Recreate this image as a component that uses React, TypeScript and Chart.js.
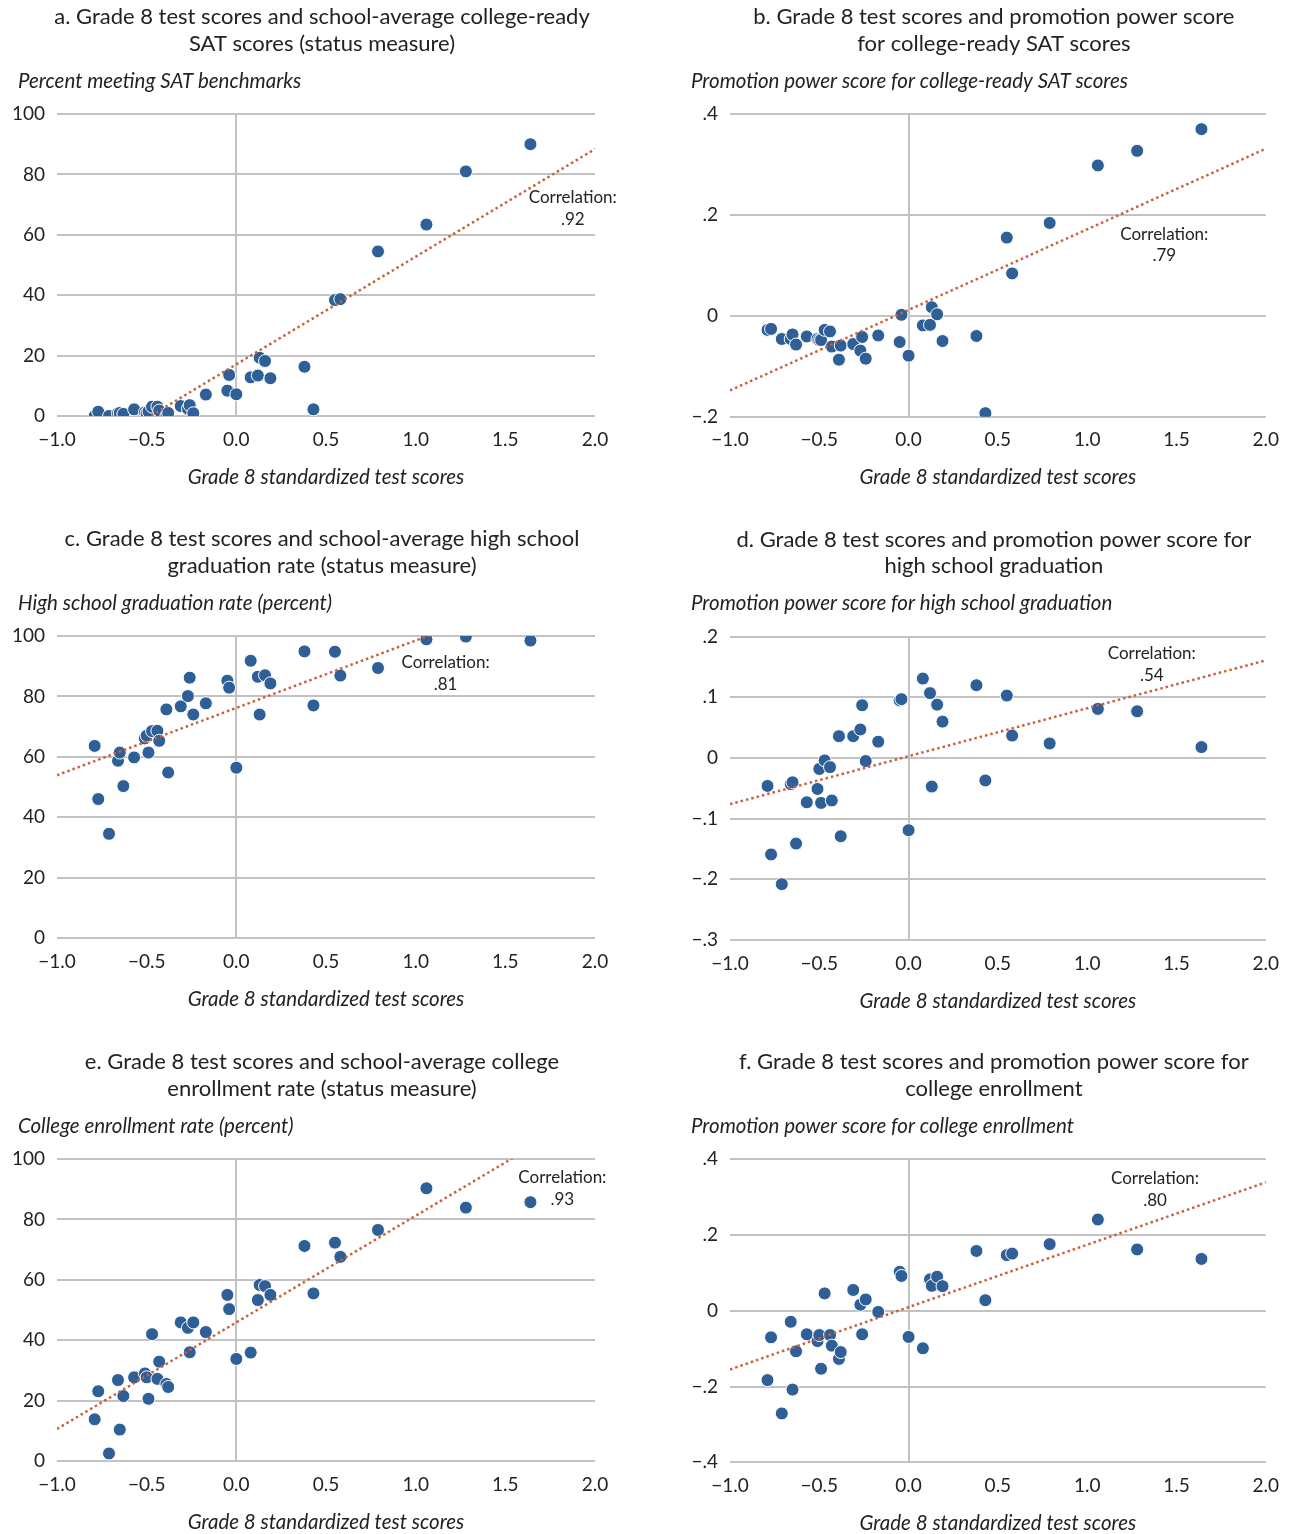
import React, { useEffect, useRef } from "react";
import { Chart, registerables } from "chart.js";

Chart.register(...registerables);

// Grade 8 standardized test scores (one value per school, shared by all panels)
const testScores = [
  -0.79, -0.77, -0.71, -0.66, -0.65, -0.63, -0.57, -0.51, -0.5, -0.49, -0.47, -0.44,
  -0.43, -0.39, -0.38, -0.31, -0.27, -0.26, -0.24, -0.17, -0.05, -0.04, 0.0, 0.08,
  0.12, 0.13, 0.16, 0.19, 0.38, 0.43, 0.55, 0.58, 0.79, 1.06, 1.28, 1.64,
];

// a. percent meeting SAT benchmarks
const satStatus = [
  0, 1.4, 0, 0.9, 1.0, 0.7, 2.2, 1.2, 0.9, 1.5, 3.1, 3.1,
  1.8, 0, 1.0, 3.3, 2.4, 3.6, 0.9, 7.1, 8.4, 13.6, 7.2, 12.8,
  13.4, 19.3, 18.2, 12.5, 16.3, 2.2, 38.4, 38.7, 54.5, 63.4, 81, 90,
];

// b. promotion power score, college-ready SAT
const satPromotion = [
  -0.028, -0.026, -0.046, -0.046, -0.037, -0.057, -0.041, -0.046, -0.048, -0.048, -0.028, -0.031,
  -0.061, -0.087, -0.059, -0.056, -0.069, -0.042, -0.085, -0.039, -0.052, 0.002, -0.079, -0.019,
  -0.018, 0.017, 0.003, -0.05, -0.04, -0.193, 0.155, 0.084, 0.184, 0.298, 0.327, 0.37,
];

// c. high school graduation rate (percent)
const gradStatus = [
  63.6, 46, 34.5, 58.7, 61.4, 50.3, 59.8, 66.1, 67.0, 61.4, 68.5, 68.6,
  65.3, 75.7, 54.8, 76.7, 80.1, 86.2, 74, 77.7, 85.2, 82.9, 56.4, 91.8,
  86.5, 74, 87, 84.3, 94.9, 77, 94.8, 86.9, 89.4, 98.9, 99.8, 98.5,
];

// d. promotion power score, high school graduation
const gradPromotion = [
  -0.046, -0.159, -0.208, -0.043, -0.04, -0.141, -0.073, -0.051, -0.018, -0.074, -0.004, -0.015,
  -0.07, 0.036, -0.129, 0.036, 0.047, 0.087, -0.005, 0.027, 0.095, 0.097, -0.119, 0.131,
  0.107, -0.047, 0.088, 0.06, 0.12, -0.037, 0.103, 0.037, 0.024, 0.081, 0.077, 0.018,
];

// e. college enrollment rate (percent)
const enrollStatus = [
  13.8, 23.1, 2.5, 26.8, 10.4, 21.5, 27.7, 29, 27.7, 20.6, 42, 27.2,
  32.9, 25.5, 24.5, 45.9, 44.1, 36, 45.9, 42.7, 55, 50.3, 33.8, 35.9,
  53.3, 58.3, 57.9, 55, 71.2, 55.5, 72.3, 67.6, 76.5, 90.3, 83.9, 85.7,
];

// f. promotion power score, college enrollment
const enrollPromotion = [
  -0.183, -0.07, -0.271, -0.029, -0.208, -0.107, -0.062, -0.08, -0.064, -0.153, 0.046, -0.064,
  -0.092, -0.127, -0.109, 0.055, 0.016, -0.062, 0.03, -0.003, 0.103, 0.092, -0.069, -0.099,
  0.083, 0.066, 0.09, 0.065, 0.158, 0.028, 0.147, 0.151, 0.176, 0.241, 0.162, 0.137,
];

// linear trendlines: [intercept, slope]
const satStatusFit = [17.1, 35.65];
const satPromotionFit = [0.0117, 0.1597];
const gradStatusFit = [76.2, 22.3];
const gradPromotionFit = [0.003, 0.079];
const enrollStatusFit = [45.9, 35.3];
const enrollPromotionFit = [0.0097, 0.1647];

const correlations = [".92", ".79", ".81", ".54", ".93", ".80"];

const xTicksRange = [-1, 2, 0.5];
const xAxisTitle = "Grade 8 standardized test scores";

const FONT = "Lato, 'Open Sans', 'DejaVu Sans', sans-serif";
const TEXT = "#222222";
const GRID = "#c2c2c2";
const POINT = "#2e5f96";
const TREND = "#c9623c";

type Panel = {
  key: string;
  left: number;
  top: number;
  width: number;
  height: number;
  area: { left: number; right: number; top: number; bottom: number };
  title: string[];
  yTitle: string;
  ys: number[];
  fit: number[];
  yRange: number[];
  pct: boolean;
  corrPos: number[];
  corr: string;
};

const panels: Panel[] = [
  {
    key: "a", left: 0, top: 0, width: 645, height: 522,
    area: { left: 57, right: 595, top: 114, bottom: 416 },
    title: ["a. Grade 8 test scores and school-average college-ready", "SAT scores (status measure)"],
    yTitle: "Percent meeting SAT benchmarks",
    ys: satStatus, fit: satStatusFit, yRange: [0, 100, 20], pct: true,
    corrPos: [1.876, 72.2], corr: correlations[0],
  },
  {
    key: "b", left: 645, top: 0, width: 646, height: 522,
    area: { left: 85, right: 622, top: 114, bottom: 416.7 },
    title: ["b. Grade 8 test scores and promotion power score", "for college-ready SAT scores"],
    yTitle: "Promotion power score for college-ready SAT scores",
    ys: satPromotion, fit: satPromotionFit, yRange: [-0.2, 0.4, 0.2], pct: false,
    corrPos: [1.432, 0.162], corr: correlations[1],
  },
  {
    key: "c", left: 0, top: 522, width: 645, height: 523,
    area: { left: 57, right: 595, top: 114, bottom: 416 },
    title: ["c. Grade 8 test scores and school-average high school", "graduation rate (status measure)"],
    yTitle: "High school graduation rate (percent)",
    ys: gradStatus, fit: gradStatusFit, yRange: [0, 100, 20], pct: true,
    corrPos: [1.167, 91.2], corr: correlations[2],
  },
  {
    key: "d", left: 645, top: 522, width: 646, height: 523,
    area: { left: 85, right: 622, top: 114.7, bottom: 418 },
    title: ["d. Grade 8 test scores and promotion power score for", "high school graduation"],
    yTitle: "Promotion power score for high school graduation",
    ys: gradPromotion, fit: gradPromotionFit, yRange: [-0.3, 0.2, 0.1], pct: false,
    corrPos: [1.362, 0.172], corr: correlations[3],
  },
  {
    key: "e", left: 0, top: 1045, width: 645, height: 489,
    area: { left: 57, right: 595, top: 114, bottom: 416 },
    title: ["e. Grade 8 test scores and school-average college", "enrollment rate (status measure)"],
    yTitle: "College enrollment rate (percent)",
    ys: enrollStatus, fit: enrollStatusFit, yRange: [0, 100, 20], pct: true,
    corrPos: [1.818, 93.8], corr: correlations[4],
  },
  {
    key: "f", left: 645, top: 1045, width: 646, height: 489,
    area: { left: 85, right: 622, top: 114.3, bottom: 417.3 },
    title: ["f. Grade 8 test scores and promotion power score for", "college enrollment"],
    yTitle: "Promotion power score for college enrollment",
    ys: enrollPromotion, fit: enrollPromotionFit, yRange: [-0.4, 0.4, 0.2], pct: false,
    corrPos: [1.38, 0.348], corr: correlations[5],
  },
];

const withMinus = (s: string) => s.replace("-", "\u2212");

const fmtFrac = (v: number) => {
  if (Math.abs(v) < 1e-9) return "0";
  const s = Math.abs(v).toFixed(1).replace(/^0/, "");
  return v < 0 ? "\u2212" + s : s;
};

function makeTextPlugin(p: Panel) {
  return {
    id: "panelText_" + p.key,
    afterDraw(chart: any) {
      const { ctx, chartArea: ca, scales } = chart;
      ctx.save();
      ctx.fillStyle = TEXT;
      ctx.textBaseline = "middle";
      const cx = (ca.left + ca.right) / 2;
      ctx.textAlign = "center";
      ctx.font = `22px ${FONT}`;
      p.title.forEach((t, i) => ctx.fillText(t, cx - 4, ca.top - 97 + i * 26.5));
      ctx.font = `italic 20.5px ${FONT}`;
      ctx.textAlign = "left";
      ctx.fillText(p.yTitle, ca.left - 39, ca.top - 33);
      ctx.textAlign = "center";
      ctx.fillText(xAxisTitle, cx, ca.bottom + 61);
      ctx.font = `17px ${FONT}`;
      const px = scales.x.getPixelForValue(p.corrPos[0]);
      const py = scales.y.getPixelForValue(p.corrPos[1]);
      ctx.fillText("Correlation:", px, py);
      ctx.fillText(p.corr, px, py + 21.5);
      ctx.restore();
    },
  };
}

function PanelChart({ p }: { p: Panel }) {
  const ref = useRef<HTMLCanvasElement | null>(null);
  useEffect(() => {
    if (!ref.current) return;
    const points = testScores.map((x, i) => ({ x, y: p.ys[i] }));
    const [x0, x1, xStep] = xTicksRange;
    const trend = [x0, x1].map((x) => ({ x, y: p.fit[0] + p.fit[1] * x }));
    const chart = new Chart(ref.current, {
      type: "scatter",
      data: {
        datasets: [
          {
            data: trend,
            showLine: true,
            pointRadius: 0,
            borderColor: TREND,
            borderWidth: 2.5,
            borderDash: [2.5, 3],
            order: 0,
          } as any,
          {
            data: points,
            pointRadius: 6.5,
            pointBackgroundColor: POINT,
            pointBorderColor: "#ffffff",
            pointBorderWidth: 1,
            order: 1,
          } as any,
        ],
      },
      options: {
        animation: false,
        responsive: false,
        events: [],
        layout: {
          padding: { top: p.area.top, left: 0, right: p.width - p.area.right, bottom: 0 },
        },
        plugins: {
          legend: { display: false },
          tooltip: { enabled: false },
          title: { display: false },
        },
        scales: {
          x: {
            type: "linear",
            min: x0,
            max: x1,
            border: { display: false },
            grid: {
              drawTicks: false,
              lineWidth: 2,
              color: (c: any) => (c.tick && Math.abs(c.tick.value) < 1e-9 ? GRID : "rgba(0,0,0,0)"),
            },
            ticks: {
              stepSize: xStep,
              autoSkip: false,
              maxRotation: 0,
              padding: 12,
              color: TEXT,
              font: { family: FONT, size: 19 },
              callback: (v: any) => withMinus(Number(v).toFixed(1)),
            },
            afterFit: (s: any) => {
              s.height = p.height - p.area.bottom;
            },
          },
          y: {
            type: "linear",
            min: p.yRange[0],
            max: p.yRange[1],
            border: { display: false },
            grid: { drawTicks: false, lineWidth: 2, color: GRID },
            ticks: {
              stepSize: p.yRange[2],
              autoSkip: false,
              padding: 12,
              color: TEXT,
              font: { family: FONT, size: 19 },
              callback: (v: any) => (p.pct ? String(Math.round(Number(v))) : fmtFrac(Number(v))),
            },
            afterFit: (s: any) => {
              s.width = p.area.left;
            },
          },
        },
      },
      plugins: [makeTextPlugin(p)],
    } as any);
    let alive = true;
    if ((document as any).fonts && (document as any).fonts.load) {
      Promise.all([
        (document as any).fonts.load(`22px Lato`),
        (document as any).fonts.load(`italic 20px Lato`),
        (document as any).fonts.load(`17px Lato`),
      ])
        .then(() => {
          if (alive) chart.update();
        })
        .catch(() => {});
    }
    return () => {
      alive = false;
      chart.destroy();
    };
  }, [p]);
  return (
    <div style={{ position: "absolute", left: p.left, top: p.top, width: p.width, height: p.height }}>
      <canvas ref={ref} width={p.width} height={p.height} style={{ width: p.width, height: p.height, display: "block" }} />
    </div>
  );
}

export default function App() {
  return (
    <div style={{ position: "absolute", left: 0, top: 0, width: 1291, height: 1534, background: "#ffffff", overflow: "hidden" }}>
      {panels.map((p) => (
        <PanelChart key={p.key} p={p} />
      ))}
    </div>
  );
}
